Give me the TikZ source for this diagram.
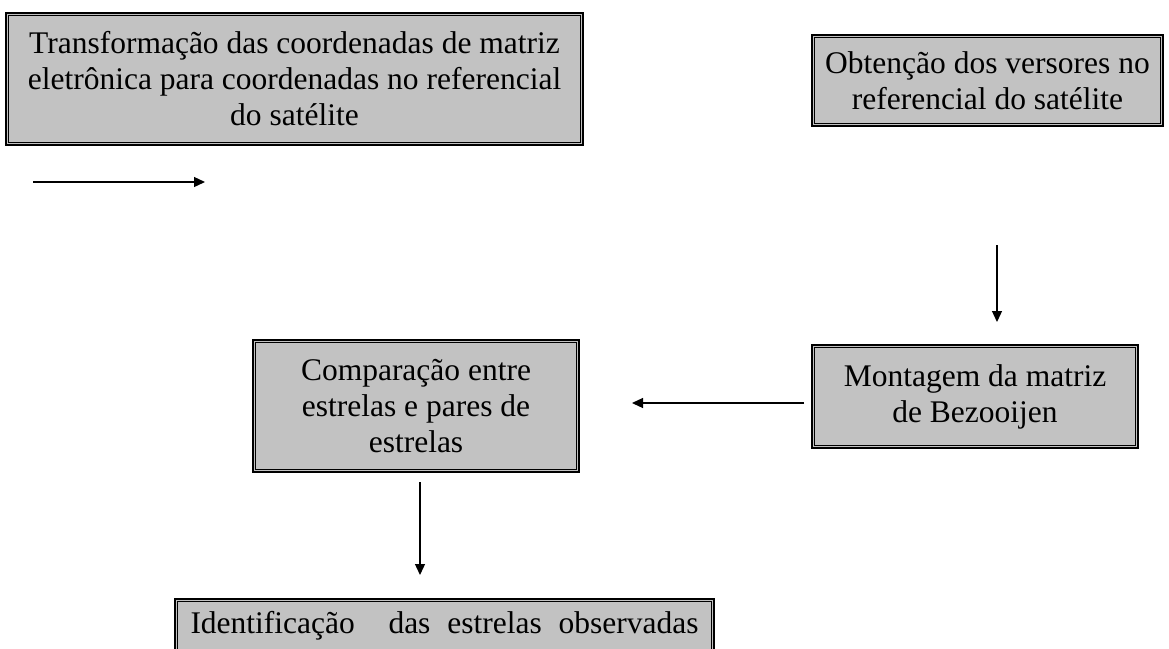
\documentclass[tikz,border=0pt]{standalone}
\usepackage{fontspec}
\setmainfont{Liberation Serif}
\usetikzlibrary{arrows.meta}
\tikzset{
  box/.style={draw=black, line width=2.4pt, fill=black!24, align=center,
    inner sep=0pt, font=\fontsize{31.5}{36}\selectfont},
  arr/.style={line width=1.3pt, -{Triangle[length=11pt,width=10pt]}},
  inner/.style={line width=0.8pt}
}
\newcommand{\innerframe}[1]{%
  \draw[inner] ([shift={(4,4)}]#1.north west) rectangle ([shift={(-4,-4)}]#1.south east);}
\begin{document}
\begin{tikzpicture}[x=1pt,y=-1pt]
\useasboundingbox (0,0) rectangle (1169,648);
% boxes
\node[box, minimum width=577pt, minimum height=132pt] (A) at (294.5,79)
  {Transformação das coordenadas de matriz\\eletrônica para coordenadas no referencial\\do satélite};
\node[box, minimum width=351pt, minimum height=91pt] (B) at (987.5,80.5)
  {Obtenção dos versores no\\referencial do satélite};
\node[box, minimum width=326pt, minimum height=103pt] (C) at (975,396.5)
  {Montagem da matriz\\de Bezooijen};
\node[box, minimum width=326pt, minimum height=132pt] (D) at (416,406)
  {Comparação entre\\estrelas e pares de\\estrelas};
\node[box, minimum width=539pt, minimum height=70pt, text height=21pt, text depth=23pt] (E) at (444.5,634)
  {\makebox[508pt][s]{Identificação\ \ das estrelas observadas}};
\innerframe{A}
\innerframe{B}
\innerframe{C}
\innerframe{D}
\innerframe{E}
% free arrow ends
\coordinate (a0s) at (33,182);
\coordinate (a0e) at (205,182);
\coordinate (bcs) at (997,245);
\coordinate (bce) at (997,322);
\coordinate (cds) at (804,403);
\coordinate (cde) at (632,403);
\coordinate (des) at (420,482);
\coordinate (dee) at (420,575);
\draw[arr] (a0s) -- (a0e);
\draw[arr] (bcs) -- (bce);
\draw[arr] (cds) -- (cde);
\draw[arr] (des) -- (dee);
\end{tikzpicture}
\end{document}
